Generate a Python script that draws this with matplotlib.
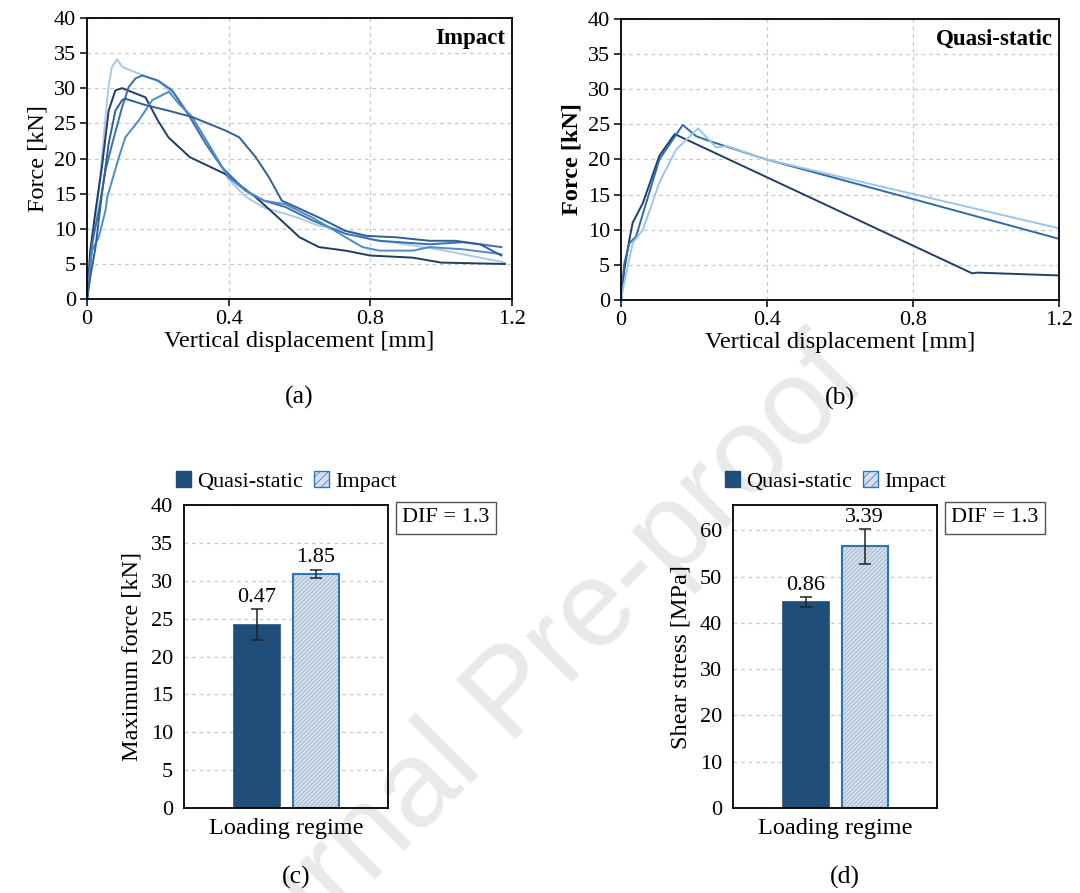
import matplotlib
matplotlib.use("Agg")
import matplotlib.pyplot as plt
from matplotlib.patches import Patch

plt.rcParams['font.family'] = ['Liberation Serif', 'DejaVu Serif']
plt.rcParams['hatch.linewidth'] = 0.5

# ---- force-displacement curves, impact tests ----
imp1_x = [0, 0.01, 0.03, 0.045, 0.06, 0.07, 0.085, 0.1, 0.15, 0.2, 0.25, 0.3, 0.35, 0.4, 0.45,
          0.5, 0.55, 0.6, 0.65, 0.7, 0.75, 0.8, 0.9, 1.0, 1.1, 1.18]
imp1_y = [0, 5, 14, 22, 30, 33, 34.1, 33, 32, 31, 29, 25.5, 21.5, 17, 14.5,
          13, 12.3, 11.5, 10.5, 10, 9.5, 8.5, 7.8, 7, 6, 5.2]
imp2_x = [0, 0.009, 0.024, 0.042, 0.061, 0.08, 0.099, 0.165, 0.2, 0.23, 0.29, 0.39, 0.476,
          0.54, 0.6, 0.655, 0.73, 0.8, 0.92, 1.0, 1.18]
imp2_y = [0, 6.9, 12.6, 18.8, 26.8, 29.7, 30, 28.7, 25.4, 23, 20.2, 17.8, 14.5,
          11.6, 8.8, 7.4, 6.9, 6.2, 5.9, 5.2, 5.0]
imp3_x = [0, 0.014, 0.033, 0.052, 0.071, 0.099, 0.118, 0.137, 0.156, 0.2, 0.24, 0.29, 0.335,
          0.38, 0.448, 0.5, 0.56, 0.636, 0.73, 0.825, 0.967, 1.06, 1.11, 1.17]
imp3_y = [0, 7.8, 12.6, 18.3, 22.1, 27.3, 30.2, 31.4, 31.8, 31.1, 29.7, 25.9, 22.1,
          18.8, 15.4, 14.0, 13.1, 11.2, 9.3, 8.3, 7.8, 8.1, 7.8, 7.4]
imp4_x = [0, 0.014, 0.033, 0.052, 0.057, 0.09, 0.108, 0.146, 0.184, 0.231, 0.259, 0.297, 0.354,
          0.4, 0.448, 0.5, 0.56, 0.636, 0.684, 0.73, 0.778, 0.825, 0.92, 0.967, 1.06, 1.17]
imp4_y = [0, 6.9, 8.8, 12.6, 14.5, 20.2, 23, 25.4, 28.3, 29.5, 27.8, 25.9, 21.1,
          17.3, 15.4, 14, 13.5, 11.6, 10.2, 8.8, 7.4, 6.9, 6.9, 7.4, 7.1, 6.4]
imp5_x = [0, 0.009, 0.024, 0.042, 0.061, 0.08, 0.099, 0.108, 0.165, 0.23, 0.297, 0.39, 0.43,
          0.476, 0.514, 0.55, 0.59, 0.655, 0.73, 0.79, 0.872, 0.967, 1.04, 1.11, 1.17]
imp5_y = [0, 3.1, 7.4, 15, 22.1, 26.8, 28.3, 28.5, 27.6, 26.8, 25.9, 24, 23,
          20.2, 17.3, 14, 13.1, 11.6, 9.7, 9, 8.8, 8.3, 8.3, 7.8, 6.2]

# ---- force-displacement curves, quasi-static tests ----
qs1_x = [0, 0.009, 0.023, 0.032, 0.06, 0.105, 0.147, 0.962, 0.976, 1.2]
qs1_y = [0, 4.3, 8.6, 11, 13.8, 20.5, 23.6, 3.8, 3.9, 3.5]
qs2_x = [0, 0.009, 0.023, 0.041, 0.105, 0.169, 0.206, 0.243, 0.398, 0.79, 1.2]
qs2_y = [0, 5.2, 8.1, 9.0, 20.0, 24.9, 23.3, 22.6, 20.0, 14.5, 8.7]
qs3_x = [0, 0.014, 0.032, 0.06, 0.105, 0.151, 0.211, 0.261, 0.29, 0.398, 0.79, 1.2]
qs3_y = [0, 3.8, 8.1, 10.0, 16.7, 21.4, 24.4, 21.7, 21.9, 20.0, 15.2, 10.2]

# ---- peak values ----
regimes = ['Quasi-static', 'Impact']
max_force = [24.2, 30.9]
max_force_err = [2.05, 0.55]
max_force_lbl = ['0.47', '1.85']
shear = [44.5, 56.5]
shear_err = [1.0, 3.7]
shear_lbl = ['0.86', '3.39']
dif_txt = 'DIF = 1.3'

imp_colors = ['#a9c9ea', '#1f3d63', '#3a6fae', '#4f8bc9', '#2f5f96']
qs_colors = ['#213f66', '#2f6aa8', '#9fc4e8']
dark = '#1f4e79'
light = '#d5e0ec'
hatch_col = '#8fa9c6'
edge = '#2e75b6'

fig = plt.figure(figsize=(10.8, 8.93), dpi=100)

fig.text(0.475, 0.22, 'Journal Pre-proof', rotation=45, fontsize=88, color='#e9e9e9',
         family='Liberation Sans', ha='center', va='center', zorder=-1)

tick_fs = 16
lab_fs = 17.5


def curve_axes(rect, title, curves, colors, bold_ylabel, letter):
    ax = fig.add_axes(rect)
    ax.patch.set_alpha(0)
    for (x, y), c in zip(curves, colors):
        ax.plot(x, y, color=c, lw=1.4)
    ax.set_xlim(0, 1.2)
    ax.set_ylim(0, 40)
    ax.set_xticks([0, 0.4, 0.8, 1.2])
    ax.set_xticklabels(['0', '0.4', '0.8', '1.2'])
    ax.set_yticks(range(0, 41, 5))
    ax.grid(True, color='#c8c8c8', ls=(0, (3, 3)), lw=0.9)
    ax.set_axisbelow(True)
    for s in ax.spines.values():
        s.set_linewidth(1.3)
    ax.tick_params(labelsize=tick_fs, direction='out', length=5, width=1.1, pad=3)
    ax.set_xlabel('Vertical displacement [mm]', fontsize=lab_fs, labelpad=1)
    ax.set_ylabel('Force [kN]', fontsize=lab_fs, labelpad=4,
                  fontweight='bold' if bold_ylabel else 'normal')
    ax.text(0.985, 0.965, title, transform=ax.transAxes, ha='right', va='top',
            fontsize=16.5, fontweight='bold')
    ax.text(0.5, -0.35, letter, transform=ax.transAxes, ha='center', va='center',
            fontsize=lab_fs + 1)
    return ax


curve_axes([0.0806, 0.665, 0.3935, 0.315], 'Impact',
           [(imp1_x, imp1_y), (imp2_x, imp2_y), (imp3_x, imp3_y),
            (imp4_x, imp4_y), (imp5_x, imp5_y)],
           imp_colors, False, '(a)')
curve_axes([0.575, 0.664, 0.4056, 0.315], 'Quasi-static',
           [(qs1_x, qs1_y), (qs2_x, qs2_y), (qs3_x, qs3_y)],
           qs_colors, True, '(b)')


def bar_axes(rect, vals, errs, lbls, ylabel, ylim, letter):
    ax = fig.add_axes(rect)
    ax.patch.set_alpha(0)
    pos = [0.358, 0.645]
    w = 0.225
    ax.bar(pos[0], vals[0], w, color=dark, edgecolor=dark, lw=1.2)
    # hatched fill first, then the blue outline on top
    ax.bar(pos[1], vals[1], w, color=light, edgecolor=hatch_col, lw=0, hatch='////////')
    ax.bar(pos[1], vals[1], w, fill=False, edgecolor=edge, lw=1.5)
    ax.errorbar(pos, vals, yerr=errs, fmt='none', ecolor='#222222', elinewidth=1.1,
                capsize=4, capthick=1.1)
    for p, v, e, t in zip(pos, vals, errs, lbls):
        ax.annotate(t, (p, v + e), xytext=(0, 2), textcoords='offset points',
                    ha='center', va='bottom', fontsize=tick_fs)
    ax.set_xlim(0, 1)
    ax.set_ylim(*ylim)
    ax.set_xticks([])
    ax.grid(True, axis='y', color='#c8c8c8', ls=(0, (3, 3)), lw=0.9)
    ax.set_axisbelow(True)
    for s in ax.spines.values():
        s.set_linewidth(1.3)
    ax.tick_params(labelsize=tick_fs, length=0, pad=8)
    ax.set_xlabel('Loading regime', fontsize=lab_fs, labelpad=7)
    ax.set_ylabel(ylabel, fontsize=lab_fs, labelpad=6)
    handles = [Patch(facecolor=dark, edgecolor=dark),
               Patch(facecolor=light, edgecolor=edge, hatch='////')]
    ax.legend(handles, regimes, loc='lower center', bbox_to_anchor=(0.5, 1.015), ncol=2,
              frameon=False, fontsize=lab_fs - 1.5, handlelength=0.7, handleheight=0.7,
              handletextpad=0.25, columnspacing=0.5, borderaxespad=0)
    ax.text(1.07, 0.99, dif_txt, transform=ax.transAxes, ha='left', va='top',
            fontsize=tick_fs,
            bbox=dict(boxstyle='square,pad=0.3', fc='white', ec='#555555', lw=1))
    ax.text(0.55, -0.23, letter, transform=ax.transAxes, ha='center', va='center',
            fontsize=lab_fs + 1)
    return ax


ax_c = bar_axes([0.1704, 0.0952, 0.189, 0.339], max_force, max_force_err, max_force_lbl,
                'Maximum force [kN]', (0, 40), '(c)')
ax_c.set_yticks(range(0, 41, 5))
ax_d = bar_axes([0.6787, 0.0952, 0.189, 0.339], shear, shear_err, shear_lbl,
                'Shear stress [MPa]', (0, 65.4), '(d)')
ax_d.set_yticks(range(0, 61, 10))

fig.savefig('out.png', dpi=100)
